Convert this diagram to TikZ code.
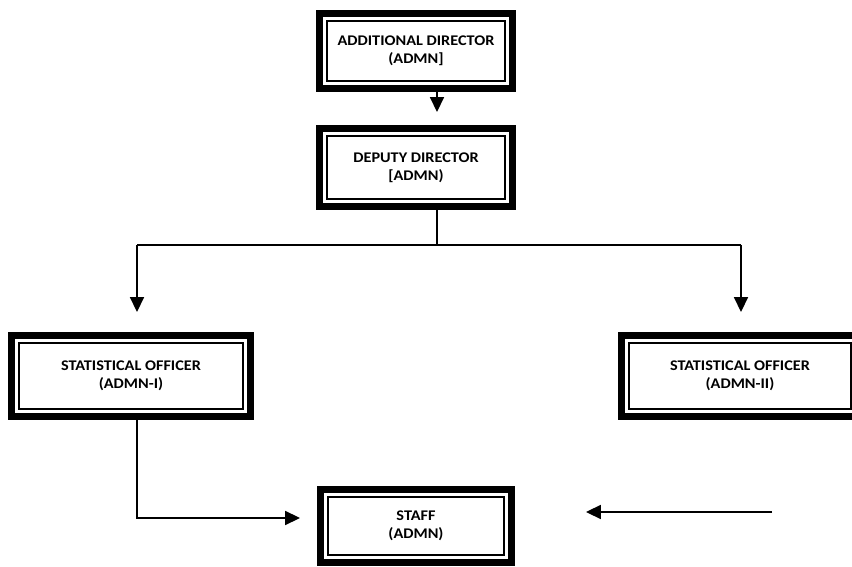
\documentclass[tikz,border=0pt]{standalone}
\usepackage{fontspec}
\setmainfont{Carlito}[FakeStretch = 1.1]
\usetikzlibrary{arrows.meta}
\tikzset{post/.style = {draw, line width = 4.2pt, align = center, inner sep = 0,
    font = \bfseries\fontsize{8.4}{10.4}\selectfont}}
\tikzset{conn/.style = {line width = 0.8pt}}
\tikzset{arr/.style = {conn, -{Triangle[length = 8.5pt, width = 8pt]}}}
\newcommand{\innerframe}[1]{%
  \draw [line width = 1.3pt] ([shift = {(11, 11)}]#1.north west) rectangle ([shift = {(-11, -11)}]#1.south east);}

\begin{document}
\begin{tikzpicture}[x = 0.02cm, y = -0.02cm]
    \useasboundingbox (0, 0) rectangle (852, 567);
    \clip (0, 0) rectangle (852, 567);

    \node [post, minimum width = 3.852cm, minimum height = 1.492cm] (addl) at (416, 51) {ADDITIONAL DIRECTOR\\(ADMN]};
    \node [post, minimum width = 3.852cm, minimum height = 1.552cm] (dep) at (416, 167.5) {DEPUTY DIRECTOR\\{[}ADMN)};
    \node [post, minimum width = 4.772cm, minimum height = 1.612cm] (soa) at (131, 376) {STATISTICAL OFFICER\\(ADMN-I)};
    \node [post, minimum width = 4.732cm, minimum height = 1.612cm] (sob) at (740, 376) {STATISTICAL OFFICER\\(ADMN-II)};
    \node [post, minimum width = 3.812cm, minimum height = 1.452cm] (staff) at (416, 526) {STAFF\\(ADMN)};

    \innerframe{addl}
    \innerframe{dep}
    \innerframe{soa}
    \innerframe{sob}
    \innerframe{staff}

    \coordinate (mid) at (437, 245);
    \coordinate (jl) at (137, 245);
    \coordinate (jr) at (741, 245);
    \coordinate (bend) at (137, 518);
    \coordinate (tail) at (772, 512);

    \draw [arr, shorten >= 0.26cm] (addl.south -| mid) -- (dep.north -| mid);
    \draw [conn] (dep.south -| mid) -- (mid);
    \draw [conn] (jl) -- (jr);
    \draw [arr, shorten >= 0.4cm] (jl) -- (jl |- soa.north);
    \draw [arr, shorten >= 0.4cm] (jr) -- (jr |- sob.north);

    \draw [arr, shorten >= 0.34cm] (bend |- soa.south) -- (bend) -- (bend -| staff.west);
    \draw [arr, shorten >= 1.42cm] (tail) -- (tail -| staff.east);
  \end{tikzpicture}
\end{document}
